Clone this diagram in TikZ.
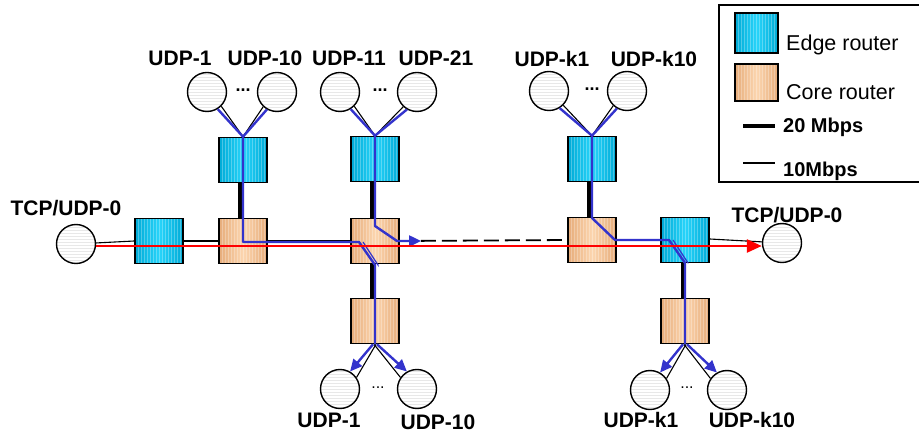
\documentclass[tikz,border=0pt]{standalone}
\usepackage{fontspec}
\setmainfont{Liberation Sans}
\usetikzlibrary{arrows.meta,patterns}
\definecolor{edgeDark}{RGB}{0,170,214}
\definecolor{edgeLight}{RGB}{40,212,250}
\definecolor{coreDark}{RGB}{230,172,122}
\definecolor{coreLight}{RGB}{252,214,176}
\definecolor{flowblue}{RGB}{51,51,204}
\definecolor{tcpred}{RGB}{255,0,0}

\begin{document}
\begin{tikzpicture}[x=1pt,y=-1pt,
  router/.style={draw=black,line width=1.6pt,minimum width=48pt,minimum height=45pt,inner sep=0pt,
    path picture={\foreach \k in {-21,-18,...,21}{\draw[white,opacity=0.28,line width=0.7pt]
      ([xshift=\k pt]path picture bounding box.south) -- ([xshift=\k pt]path picture bounding box.north);}}},
  edgerouter/.style={router,left color=edgeDark,right color=edgeDark,middle color=edgeLight},
  corerouter/.style={router,left color=coreDark,right color=coreDark,middle color=coreLight},
  host/.style={circle,draw=black,line width=1.4pt,minimum size=39pt,inner sep=0pt,
    preaction={fill=white},pattern=horizontal lines,pattern color=gray!18},
  lbl/.style={font=\bfseries\fontsize{21}{24}\selectfont,text height=15pt,text depth=0pt,inner sep=0pt},
  legtxt/.style={font=\fontsize{21.5}{24}\selectfont,text height=15.4pt,text depth=0pt,inner sep=0pt,anchor=west},
  dotsb/.style={font=\bfseries\fontsize{18}{20}\selectfont,inner sep=0pt},
  dotsr/.style={font=\fontsize{16}{18}\selectfont,inner sep=0pt},
  thinlink/.style={line width=1.1pt,black},
  thicklink/.style={line width=3.6pt,black},
  dashlink/.style={line width=1.8pt,black,dash pattern=on 15pt off 6pt},
  flow/.style={line width=2.4pt,flowblue,line join=round},
  flowtip/.style={flow,-{Triangle[length=12pt,width=11pt]}},
  redflow/.style={line width=2.6pt,tcpred,-{Triangle[length=15pt,width=13pt]}}
]
\useasboundingbox (0,0) rectangle (919,435);
\begin{scope}
\clip (0,0) rectangle (919,435);

% ---- routers ----
\node[edgerouter] (e1) at (159,241) {};
\node[corerouter] (c1) at (243,241) {};
\node[corerouter] (c2) at (375,241) {};
\node[corerouter] (c3) at (592,240) {};
\node[edgerouter] (e5) at (685,240) {};
\node[edgerouter] (t1) at (243,160) {};
\node[edgerouter] (t2) at (375,159) {};
\node[edgerouter] (t3) at (592,159) {};
\node[corerouter] (b4) at (375,321) {};
\node[corerouter] (b5) at (685,321) {};

% ---- hosts ----
\node[host] (src) at (76,244) {};
\node[host] (dst) at (782,243) {};
\node[host] (u1) at (207,92) {};
\node[host] (u10) at (277,92) {};
\node[host] (u11) at (340,92) {};
\node[host] (u21) at (417,92) {};
\node[host] (uk1) at (549,91) {};
\node[host] (uk10) at (627,91) {};
\node[host] (d1) at (340,389) {};
\node[host] (d10) at (417,389) {};
\node[host] (dk1) at (650,390) {};
\node[host] (dk10) at (727,390) {};

% ---- labels ----
\node[lbl] at (66,208) {TCP/UDP-0};
\node[lbl] at (787,215) {TCP/UDP-0};
\node[lbl] at (180,58) {UDP-1};
\node[lbl] at (265,58) {UDP-10};
\node[lbl] at (349,58) {UDP-11};
\node[lbl] at (436,58) {UDP-21};
\node[lbl] at (552,59) {UDP-k1};
\node[lbl] at (654,59) {UDP-k10};
\node[lbl] at (329,420) {UDP-1};
\node[lbl] at (438,422) {UDP-10};
\node[lbl] at (641,420) {UDP-k1};
\node[lbl] at (752,420) {UDP-k10};
\node[dotsb] at (243,90) {...};
\node[dotsb] at (380,90) {...};
\node[dotsb] at (592,89) {...};
\node[dotsr] at (378,388) {...};
\node[dotsr] at (687,388) {...};

% ---- 10 Mbps links ----
\draw[thinlink] (src) -- (e1.west);
\draw[thinlink] (e1.east) -- (c1.west);
\draw[thinlink] (c1.east) -- (c2.west);
\draw[dashlink] (c2.east) -- (c3.west);
\draw[thinlink] (c3.east) -- (e5.west);
\draw[thinlink] ([yshift=1pt]e5.east) -- (dst);
\draw[thinlink] (u1.-45) -- (t1.north);
\draw[thinlink] (u10.-133) -- (t1.north);
\draw[thinlink] (u11.-45) -- (t2.north);
\draw[thinlink] (u21.-133) -- (t2.north);
\draw[thinlink] (uk1.-45) -- (t3.north);
\draw[thinlink] (uk10.-133) -- (t3.north);
\draw[thinlink] ([xshift=1pt]b4.south) -- (d1.35);
\draw[thinlink] ([xshift=-1pt]b4.south) -- (d10.145);
\draw[thinlink] ([xshift=1pt]b5.south) -- (dk1.35);
\draw[thinlink] ([xshift=-1pt]b5.south) -- (dk10.145);

% ---- 20 Mbps links ----
\draw[thicklink] ([xshift=-3pt]t1.south) -- ([xshift=-3pt]c1.north);
\draw[thicklink] ([xshift=-3pt]t2.south) -- ([xshift=-3pt]c2.north);
\draw[thicklink] ([xshift=-3pt]t3.south) -- ([xshift=-3pt]c3.north);
\draw[thicklink] ([xshift=-3pt]c2.south) -- ([xshift=-3pt]b4.north);
\draw[thicklink] ([xshift=-2pt]e5.south) -- ([xshift=-2pt]b5.north);

% ---- UDP flows ----
\coordinate (a1) at (243,242);
\coordinate (a2) at (359,242);
\coordinate (a3) at (375,265);
\coordinate (bb1) at (375,226);
\coordinate (bb2) at (397,241);
\coordinate (bb3) at (421,241);
\coordinate (cc1) at (592,218);
\coordinate (cc2) at (615,240);
\coordinate (cc3) at (669,240);
\coordinate (cc4) at (685,263);

\draw[flow] (u1.-58) -- (t1.north);
\draw[flow] (u10.-120) -- (t1.north);
\draw[flow] (t1.north) -- (a1) -- (a2) -- (a3) -- (b4.south);
\draw[flowblue,line width=1.2pt] ([xshift=4pt]a2) -- ([xshift=3pt]a3) -- ([xshift=3pt]c2.south);
\draw[flowtip] ([xshift=-2pt]b4.south) -- (d1.60);
\draw[flowtip] ([xshift=2pt]b4.south) -- (d10.120);

\draw[flow] (u11.-58) -- (t2.north);
\draw[flow] (u21.-120) -- (t2.north);
\draw[flowtip] (t2.north) -- (bb1) -- (bb2) -- (bb3);

\draw[flow] (uk1.-58) -- (t3.north);
\draw[flow] (uk10.-120) -- (t3.north);
\draw[flow] (t3.north) -- (cc1) -- (cc2) -- (cc3) -- (cc4) -- (b5.south);
\draw[flowblue,line width=1.2pt] ([xshift=4pt]cc3) -- ([xshift=3pt]cc4) -- ([xshift=3pt]e5.south);
\draw[flowtip] ([xshift=-2pt]b5.south) -- (dk1.60);
\draw[flowtip] ([xshift=2pt]b5.south) -- (dk10.120);

% ---- TCP flow ----
\draw[redflow] ([yshift=-2pt]src.east) -- ([yshift=-3pt]dst.west);

% ---- legend ----
\draw[line width=1.2pt] (719,5) rectangle (940,182);
\node[edgerouter,minimum width=43pt,minimum height=40pt] (lege) at (756.5,33) {};
\node[corerouter,minimum width=43pt,minimum height=37pt] (legc) at (756.5,82.5) {};
\node[legtxt] at (786,43) {Edge router};
\node[legtxt] at (786,92) {Core router};
\coordinate (lk1a) at (743,126);
\coordinate (lk1b) at (775,126);
\coordinate (lk2a) at (743,163);
\coordinate (lk2b) at (775,163);
\draw[line width=4pt] (lk1a) -- (lk1b);
\draw[line width=1.1pt] (lk2a) -- (lk2b);
\node[lbl,anchor=west,font=\bfseries\fontsize{20}{22}\selectfont,text height=14pt] at (783,126) {20 Mbps};
\node[lbl,anchor=west,font=\bfseries\fontsize{20}{22}\selectfont,text height=14pt] at (783,170) {10Mbps};
\end{scope}
\end{tikzpicture}
\end{document}
